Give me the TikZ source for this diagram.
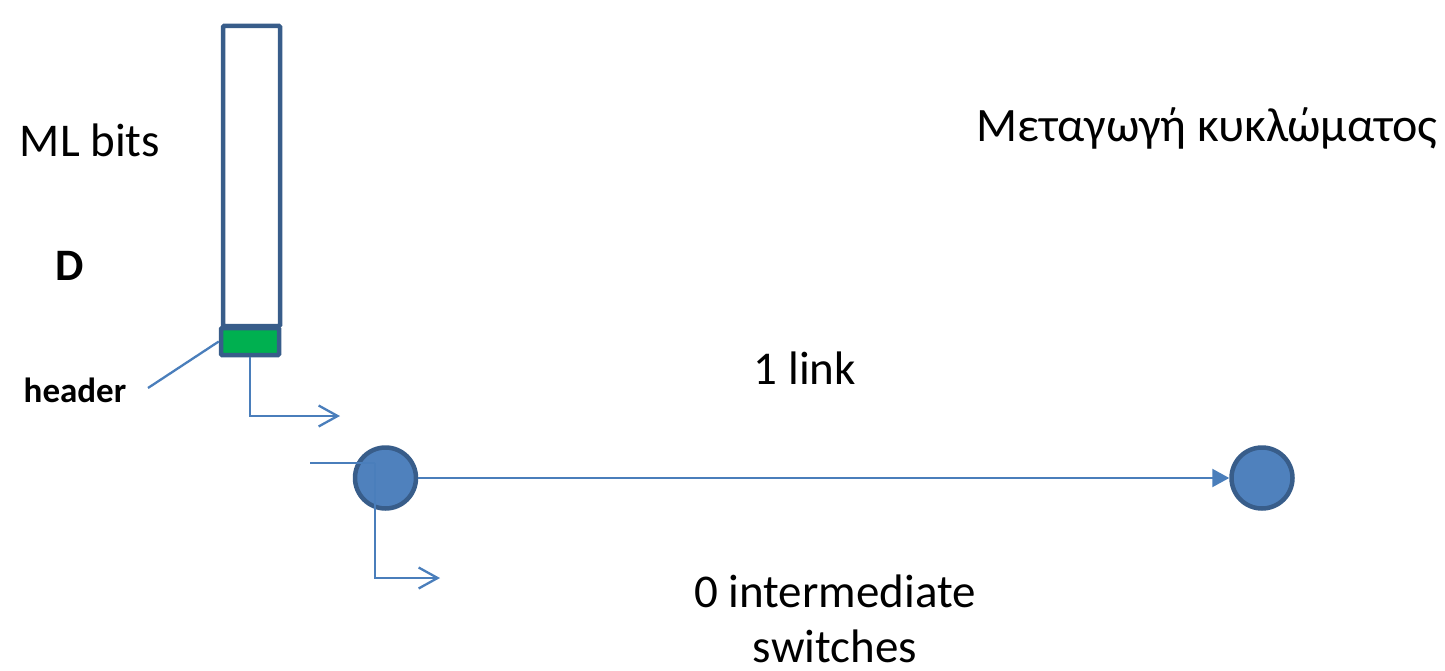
\documentclass[tikz,border=0pt]{standalone}
\usepackage{fontspec}
\setmainfont{Carlito}
\usetikzlibrary{arrows.meta}

\definecolor{boxedge}{HTML}{385D8A}
\definecolor{linkblue}{HTML}{4A7EBB}
\definecolor{nodeblue}{HTML}{4F81BD}
\definecolor{hdrgreen}{HTML}{00B050}

\tikzset{
  packet/.style={draw=boxedge, line width=4.5pt, rounded corners=1pt, inner sep=0pt},
  station/.style={circle, draw=boxedge, line width=4.5pt, fill=nodeblue, minimum size=61pt, inner sep=0pt},
  wire/.style={linkblue, line width=2.3pt},
  hop/.style={wire, -{Straight Barb[length=19pt,width=21pt,line width=2.3pt]}},
  lbl/.style={font=\fontsize{47}{56}\selectfont, inner sep=0pt},
}

\begin{document}
\begin{tikzpicture}[x=1pt,y=-1pt]
\useasboundingbox (0,0) rectangle (1445,671);

% the message and its header
\node[packet, minimum width=57pt, minimum height=300pt] (msg) at (251.5,176) {};
\node[packet, fill=hdrgreen, minimum width=58pt, minimum height=27pt] (hdr) at (250,341.5) {};

\node[lbl] (bits) at (90,140) {ML bits};
\node[lbl, font=\fontsize{45}{54}\selectfont\bfseries] (dlen) at (70,266) {D};
\node[inner sep=0pt, font=\fontsize{35}{42}\selectfont\bfseries] (hname) at (75,390) {header};
\coordinate (htip) at (148,388);
\draw[wire] (hdr.west) -- (htip);

% header leaves first
\coordinate (out1) at (340,416);
\draw[hop] (hdr.south) |- (out1);

% the two ends of the circuit
\node[station] (src) at (385.5,478) {};
\node[station] (dst) at (1262,478) {};
\draw[wire, -{Triangle[length=17pt,width=18pt]}] (src) -- (dst);

% bits go through the source
\coordinate (in2) at (310,463);
\coordinate (turn2) at (375,463);
\coordinate (out2) at (440,578);
\draw[wire] (in2) -- (turn2);
\draw[hop] (turn2) |- (out2);

% labels
\node[lbl, font=\fontsize{48}{56}\selectfont] (title) at (1207,128) {Μεταγωγή κυκλώματος};
\node[lbl] (links) at (805,368) {1 link};
\node[lbl, align=center, font=\fontsize{47}{55}\selectfont] (sw) at (835,619) {0 intermediate\\switches};
\end{tikzpicture}
\end{document}
